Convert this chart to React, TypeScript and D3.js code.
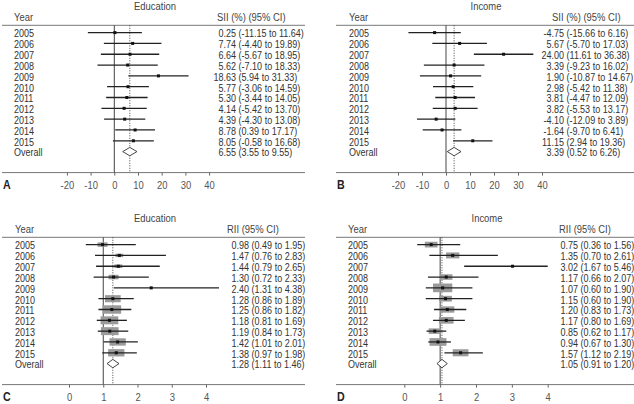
import React, { useEffect, useRef } from 'react';
import * as d3 from 'd3';

const years = ['2005', '2006', '2007', '2008', '2009', '2010', '2011', '2012', '2013', '2014', '2015'];

// SII education
const siiEduEst = [0.25, 7.74, 6.64, 5.62, 18.63, 5.77, 5.3, 4.14, 4.39, 8.78, 8.05];
const siiEduLo = [-11.15, -4.4, -5.67, -7.1, 5.94, -3.06, -3.44, -5.42, -4.3, 0.39, -0.58];
const siiEduHi = [11.64, 19.89, 18.95, 18.33, 31.33, 14.59, 14.05, 13.7, 13.08, 17.17, 16.68];
const siiEduAll = [6.55, 3.55, 9.55];

// SII income
const siiIncEst = [-4.75, 5.67, 24.0, 3.39, 1.9, 2.98, 3.81, 3.82, -4.1, -1.64, 11.15];
const siiIncLo = [-15.66, -5.7, 11.61, -9.23, -10.87, -5.42, -4.47, -5.53, -12.09, -9.7, 2.94];
const siiIncHi = [6.16, 17.03, 36.38, 16.02, 14.67, 11.38, 12.09, 13.17, 3.89, 6.41, 19.36];
const siiIncAll = [3.39, 0.52, 6.26];

// RII education
const riiEduEst = [0.98, 1.47, 1.44, 1.3, 2.4, 1.28, 1.25, 1.18, 1.19, 1.42, 1.38];
const riiEduLo = [0.49, 0.76, 0.79, 0.72, 1.31, 0.86, 0.86, 0.81, 0.84, 1.01, 0.97];
const riiEduHi = [1.95, 2.83, 2.65, 2.33, 4.38, 1.89, 1.82, 1.69, 1.73, 2.01, 1.98];
const riiEduAll = [1.28, 1.11, 1.46];
const riiEduWeight = [10, 7.7, 8, 10, 3, 15.7, 18.7, 17.7, 17.7, 16.3, 16.3];

// RII income
const riiIncEst = [0.75, 1.35, 3.02, 1.17, 1.07, 1.15, 1.2, 1.17, 0.85, 0.94, 1.57];
const riiIncLo = [0.36, 0.7, 1.67, 0.66, 0.6, 0.6, 0.83, 0.8, 0.62, 0.67, 1.12];
const riiIncHi = [1.56, 2.61, 5.46, 2.07, 1.9, 1.9, 1.73, 1.69, 1.17, 1.3, 2.19];
const riiIncAll = [1.05, 0.91, 1.2];
const riiIncWeight = [12.7, 13.3, 3, 12.3, 19.3, 12.7, 14, 14.7, 12.3, 17, 15.7];

const siiTicks = [-20, -10, 0, 10, 20, 30, 40];
const riiTicks = [0, 1, 2, 3, 4];

// narrow look: Liberation Sans squeezed horizontally
const FONT = "'Liberation Sans', Arial, sans-serif";
const SQ = 0.82;

interface Panel {
  letter: string;
  title: string;
  header: string;
  est: number[];
  lo: number[];
  hi: number[];
  all: number[];
  weight: number[] | null;
  ticks: number[];
  nullValue: number;
  xRange: [number, number];
  clipMax: number | null;
  ox: number;
  right: number;
  top: number;
  estX: number;
  headerX: number;
  yearX: number;
  titleX: number;
}

const panels: Panel[] = [
  {
    letter: 'A', title: 'Education', header: 'SII (%) (95% CI)',
    est: siiEduEst, lo: siiEduLo, hi: siiEduHi, all: siiEduAll, weight: null,
    ticks: siiTicks, nullValue: 0, xRange: [66.9, 209.1], clipMax: null,
    ox: 2, right: 305, top: 0, estX: 236, headerX: 217, yearX: 14, titleX: 155,
  },
  {
    letter: 'B', title: 'Income', header: 'SII (%) (95% CI)',
    est: siiIncEst, lo: siiIncLo, hi: siiIncHi, all: siiIncAll, weight: null,
    ticks: siiTicks, nullValue: 0, xRange: [398, 542], clipMax: null,
    ox: 336, right: 634, top: 0, estX: 564, headerX: 552, yearX: 349, titleX: 486,
  },
  {
    letter: 'C', title: 'Education', header: 'RII (95% CI)',
    est: riiEduEst, lo: riiEduLo, hi: riiEduHi, all: riiEduAll, weight: riiEduWeight,
    ticks: riiTicks, nullValue: 1, xRange: [69, 206], clipMax: null,
    ox: 2, right: 305, top: 212, estX: 249, headerX: 227, yearX: 15, titleX: 155,
  },
  {
    letter: 'D', title: 'Income', header: 'RII (95% CI)',
    est: riiIncEst, lo: riiIncLo, hi: riiIncHi, all: riiIncAll, weight: riiIncWeight,
    ticks: riiTicks, nullValue: 1, xRange: [404.3, 547.7], clipMax: 4,
    ox: 336, right: 634, top: 212, estX: 578, headerX: 559, yearX: 348, titleX: 487,
  },
];

type G = d3.Selection<SVGGElement, unknown, null, undefined>;

function label(g: G, x: number, y: number, str: string, anchor = 'start', size = 11, fill = '#333', weight = 'normal') {
  g.append('text')
    .attr('transform', `translate(${x},${y}) scale(${SQ},1)`)
    .attr('dy', '0.35em')
    .attr('text-anchor', anchor)
    .attr('font-size', size)
    .attr('font-weight', weight)
    .attr('fill', fill)
    .text(str);
}

const App: React.FC = () => {
  const svgRef = useRef<SVGSVGElement | null>(null);

  useEffect(() => {
    if (!svgRef.current) return;
    const svg = d3.select(svgRef.current);
    svg.selectAll('*').remove();
    svg.style('font-family', FONT);

    const rows = [...years, 'Overall'];
    const sizeScale = d3.scaleLinear().domain([0, 20]).range([0, 20]);

    panels.forEach((p) => {
      const g = svg.append('g').attr('transform', `translate(0,${p.top})`) as unknown as G;
      const x = d3.scaleLinear().domain([p.ticks[0], p.ticks[p.ticks.length - 1]]).range(p.xRange);
      const y = d3.scalePoint<string>().domain(rows).range([33.6, 152.6]);
      const clip = (v: number) => (p.clipMax != null ? Math.min(v, p.clipMax) : v);
      const headY = 25.3;
      const axisY = 172.6;

      // title + header
      label(g, p.titleX, 6, p.title, 'middle', 11.5, '#444');
      label(g, p.yearX, 16.5, 'Year', 'start', 11.5, '#444');
      label(g, p.headerX, 16.5, p.header, 'start', 11.5, '#444');

      g.append('line').attr('x1', p.ox).attr('x2', p.right).attr('y1', headY).attr('y2', headY)
        .attr('stroke', '#777').attr('stroke-width', 1);
      g.append('line').attr('x1', p.ox).attr('x2', p.right).attr('y1', axisY).attr('y2', axisY)
        .attr('stroke', '#777').attr('stroke-width', 1);

      // null line + overall dotted line
      g.append('line').attr('x1', x(p.nullValue)).attr('x2', x(p.nullValue)).attr('y1', headY).attr('y2', axisY)
        .attr('stroke', '#444').attr('stroke-width', 1);
      g.append('line').attr('x1', x(p.all[0])).attr('x2', x(p.all[0])).attr('y1', headY).attr('y2', axisY)
        .attr('stroke', '#444').attr('stroke-width', 1).attr('stroke-dasharray', '1,1.5');

      // x axis ticks
      g.append('g')
        .attr('transform', `translate(0,${axisY})`)
        .call(d3.axisBottom(x).tickValues(p.ticks).tickSize(3).tickPadding(5).tickFormat((d) => String(d)))
        .call((a) => a.select('.domain').remove())
        .call((a) => a.selectAll('line').attr('stroke', '#666'))
        .call((a) =>
          a.selectAll('text').attr('fill', '#555').attr('font-size', 11.5).attr('font-family', FONT)
            .attr('transform', `scale(${SQ},1)`),
        );

      label(g, p.ox + 1, 184, p.letter, 'start', 13, '#222', 'bold');

      years.forEach((yr, i) => {
        const cy = y(yr)!;
        label(g, p.yearX, cy, yr);
        if (p.weight) {
          const w = sizeScale(p.weight[i]);
          const h = Math.max(2, w * 0.45);
          g.append('rect').attr('x', x(p.est[i]) - w / 2).attr('y', cy - h / 2 - 1)
            .attr('width', w).attr('height', h).attr('fill', '#9a9a9a');
        }
        g.append('line').attr('x1', x(p.lo[i])).attr('x2', x(clip(p.hi[i]))).attr('y1', cy - 1).attr('y2', cy - 1)
          .attr('stroke', '#222').attr('stroke-width', 1.3);
        g.append('rect').attr('x', x(p.est[i]) - 1.5).attr('y', cy - 2.5).attr('width', 3).attr('height', 3)
          .attr('fill', '#111');

        label(g, p.estX, cy, p.est[i].toFixed(2), 'end');
        label(g, p.estX + 2.6, cy, `(${p.lo[i].toFixed(2)} to ${p.hi[i].toFixed(2)})`);
      });

      // overall
      const oy = y('Overall')!;
      label(g, p.yearX, oy, 'Overall');
      const dh = 4.2;
      const dPts: [number, number][] = [
        [x(p.all[1]), oy - 1], [x(p.all[0]), oy - 1 - dh], [x(p.all[2]), oy - 1], [x(p.all[0]), oy - 1 + dh],
      ];
      g.append('path').attr('d', d3.line()(dPts)! + 'Z').attr('fill', '#fff')
        .attr('stroke', '#333').attr('stroke-width', 0.9);
      label(g, p.estX, oy, p.all[0].toFixed(2), 'end');
      label(g, p.estX + 2.6, oy, `(${p.all[1].toFixed(2)} to ${p.all[2].toFixed(2)})`);
    });
  }, []);

  return (
    <svg ref={svgRef} width={634} height={404} style={{ position: 'absolute', left: 0, top: 0, background: '#fff' }} />
  );
};

export default App;
